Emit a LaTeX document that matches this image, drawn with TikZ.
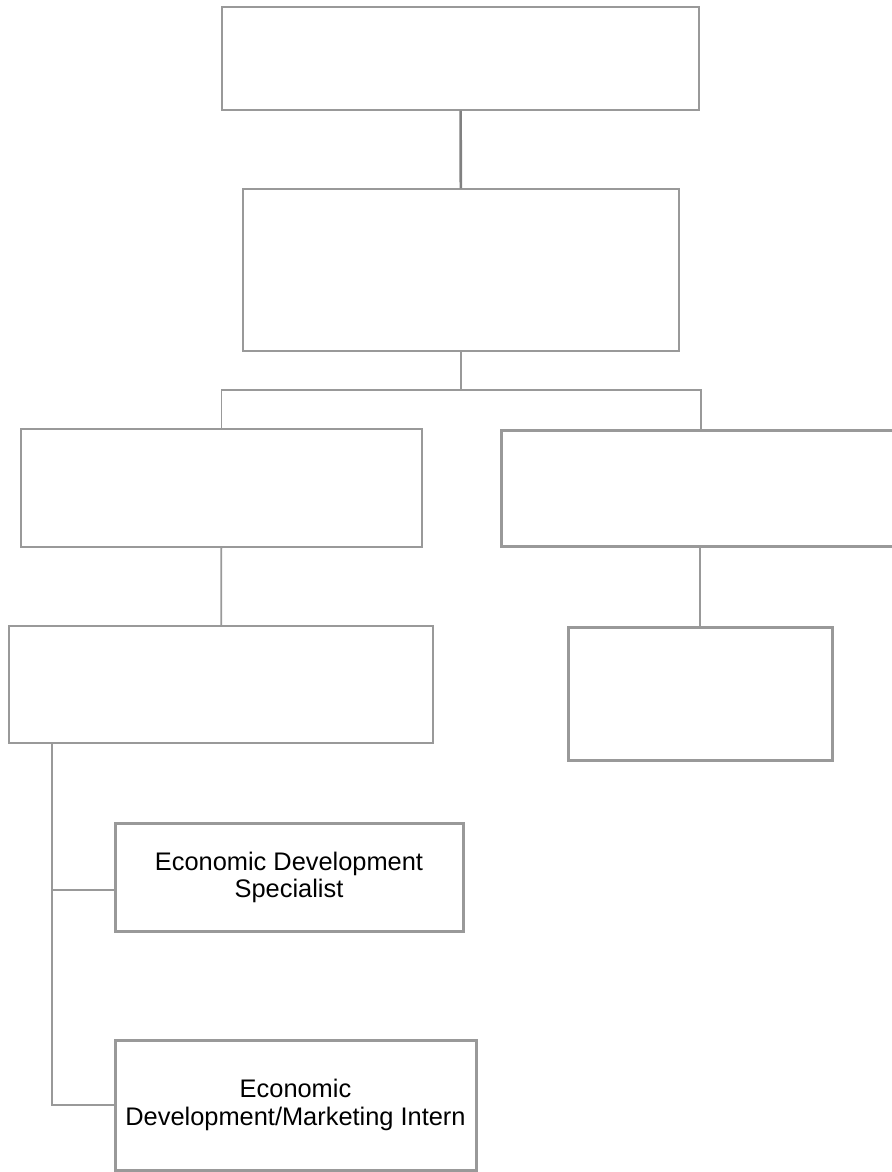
\documentclass[tikz,border=0pt]{standalone}
\usepackage{fontspec}
\setmainfont{Liberation Sans}
\definecolor{boxgray}{HTML}{999999}
\definecolor{linkgray}{HTML}{808080}

\begin{document}
\begin{tikzpicture}[x=0.5pt,y=-0.5pt,
  box/.style={draw=boxgray,line width=0.6pt,fill=white,inner sep=0pt,align=center,
    font=\fontsize{12.7}{13.7}\selectfont},
  boldbox/.style={box,line width=1.5pt},
  link/.style={draw=boxgray,line width=0.9pt}]
\useasboundingbox (0,0) rectangle (891,1172);
\node[box,minimum width=238.5pt,minimum height=51.5pt] (dir) at (460.5,58.5) {};
\node[box,minimum width=218pt,minimum height=81pt] (mgr) at (461,270) {};
\node[box,minimum width=200.5pt,minimum height=59pt] (ecodev) at (221.5,488) {};
\node[boldbox,minimum width=200pt,minimum height=58pt] (admin) at (701,488) {};
\node[box,minimum width=212pt,minimum height=58.5pt] (coord) at (221,684.5) {};
\node[boldbox,minimum width=132pt,minimum height=66.5pt] (asst) at (700,693.5) {};
\node[boldbox,minimum width=174pt,minimum height=54pt] (spec) at (289,877) {\strut Economic Development\\Specialist};
\node[boldbox,minimum width=180.5pt,minimum height=65pt] (intern) at (295.5,1105) {Economic\\Development/Marketing Intern};
\coordinate (split) at (461,390);
\coordinate (rail) at (52,743);
\draw[draw=linkgray,line width=1.3pt] (dir) -- (mgr);
\draw[link] (mgr) -- (split);
\draw[link] (ecodev.north) |- (split) -| (admin.north);
\draw[link] (ecodev) -- (coord);
\draw[link] (admin.south -| asst.north) -- (asst.north);
\draw[link] (rail) |- ([yshift=-6.5pt]spec.west);
\draw[link] (rail) |- (intern.west);
\end{tikzpicture}
\end{document}
